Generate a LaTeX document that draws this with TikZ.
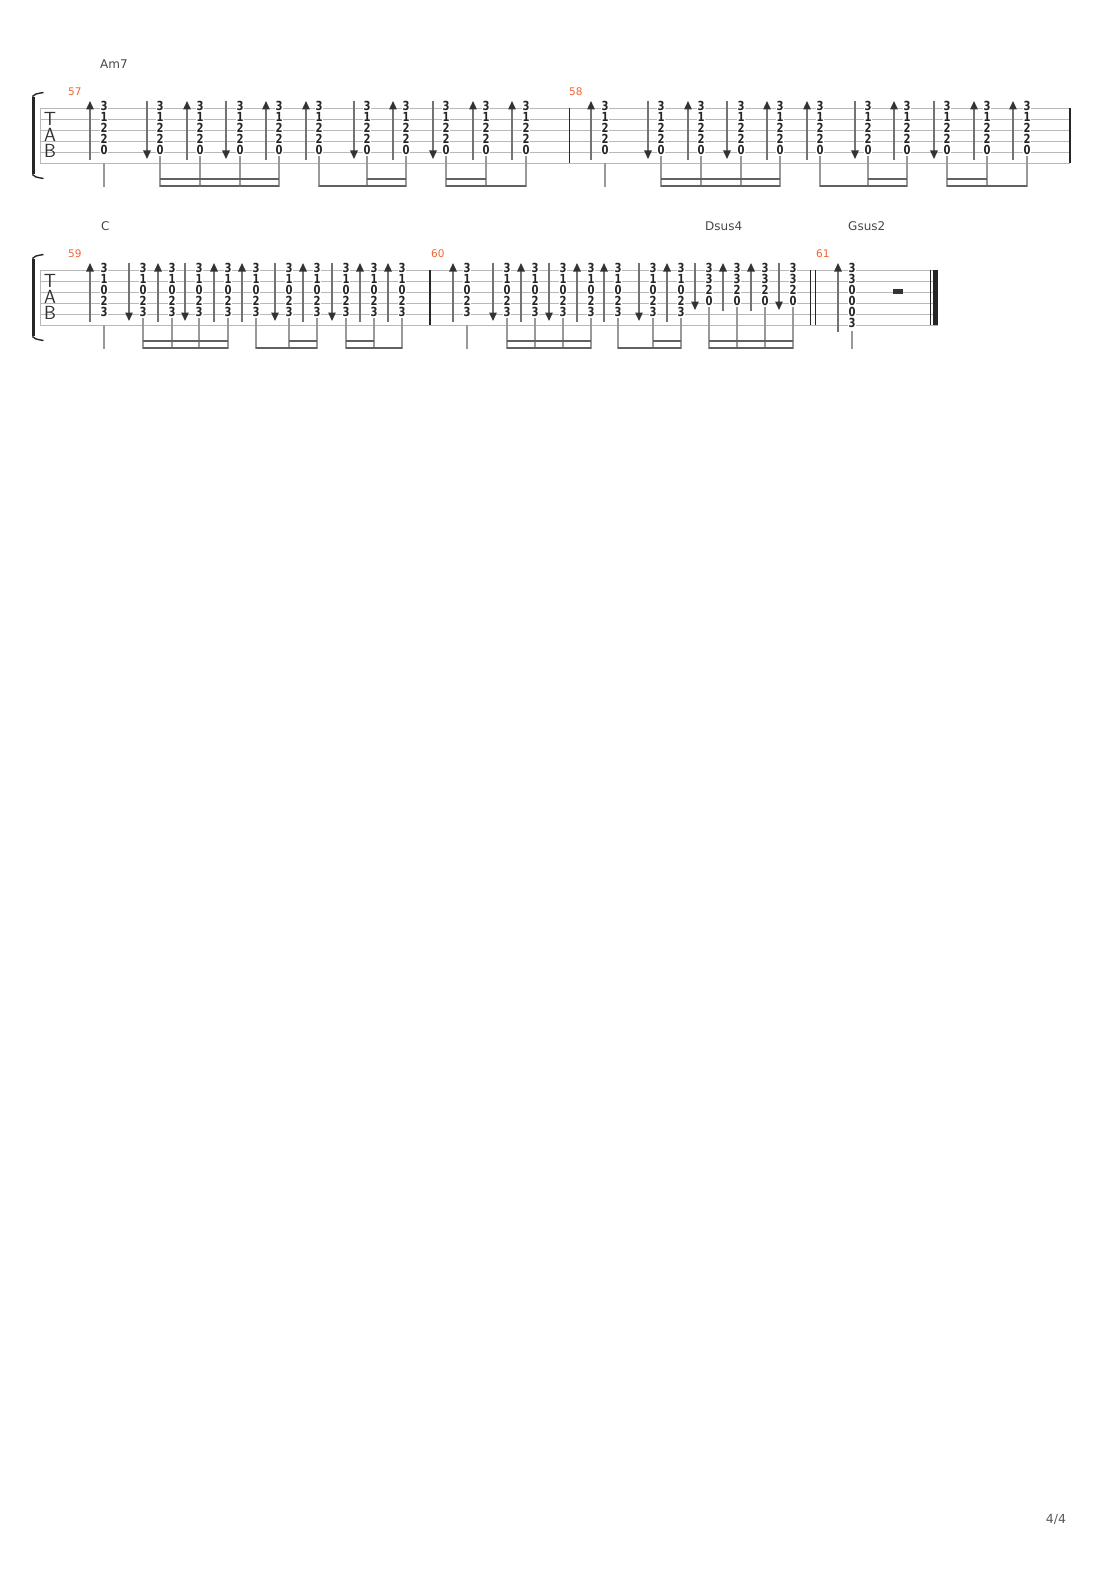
\documentclass[tikz,border=0pt]{standalone}
\usepackage{fontspec}
\usetikzlibrary{arrows.meta}
\newfontfamily\fretfont{DejaVu Sans}[FakeStretch=0.8]
\newfontfamily\labelfont{DejaVu Sans}
\tikzset{
    staffline/.style={draw=staffgray, line width=0.8pt},
    barline/.style={draw=black!85, line width=1.2pt},
    fret/.style={font=\fretfont\bfseries\fontsize{12.5}{12.5}\selectfont, text=black!85,
        fill=white, inner sep=0.2pt},
    strum/.style={draw=strumgray, line width=1.3pt,
        -{Triangle[width=7.5pt,length=8.5pt,color=headgray]}},
    stem/.style={draw=stemgray, line width=1.1pt},
    beam/.style={draw=beamgray, line width=2.4pt},
    chordname/.style={font=\labelfont\fontsize{12}{12}\selectfont, text=black!72,
        anchor=west, inner sep=0pt},
    barnum/.style={font=\labelfont\fontsize{10.5}{10.5}\selectfont, text=barorange,
        anchor=west, inner sep=0pt},
    tabletters/.style={font=\sffamily\fontsize{19}{15.6}\selectfont, text=black!80,
        inner sep=0pt, align=center}
}

\begin{document}
\begin{tikzpicture}[x=1pt,y=-1pt]
  % Colors
    \colorlet{staffgray}{black!28}
    \colorlet{strumgray}{black!55}
    \colorlet{headgray}{black!80}
    \colorlet{stemgray}{black!40}
    \colorlet{beamgray}{black!62}
    \definecolor{barorange}{RGB}{242,100,50}

  % The graphic
    \useasboundingbox (0,0) rectangle (1110,1570);

  % staves
    \foreach \y in {0,...,5}{
      \draw[staffline] (40,{108+11*\y}) -- (1070,{108+11*\y});
      \draw[staffline] (40,{270+11*\y}) -- (937.5,{270+11*\y});
    }
    \foreach \y in {108,270}{
      \draw[staffline] (40,\y) -- (40,{\y+55});
      \draw[line width=2.8pt, draw=black!85] (33.5,{\y-11}) -- (33.5,{\y+66});
      \draw[line width=1.4pt, draw=black!85] (32.4,{\y-11.5}) .. controls (35,{\y-14}) .. (43.5,{\y-15.5});
      \draw[line width=1.4pt, draw=black!85] (32.4,{\y+66.5}) .. controls (35,{\y+69}) .. (43.5,{\y+70.5});
      \node[tabletters] (tab\y) at (50,{\y+27}) {T\\A\\B};
    }

  % bar lines
    \draw[barline] (569.5,108) -- (569.5,163);
    \draw[barline] (1070,108) -- (1070,163);
    \draw[barline] (430,270) -- (430,325);
    \draw[barline] (810.7,270) -- (810.7,325);
    \draw[barline] (815.3,270) -- (815.3,325);
    \draw[barline] (930.7,270) -- (930.7,325);
    \draw[draw=black!85, line width=4.4pt] (935.5,270) -- (935.5,325);

  % labels
    \node[chordname] (am7) at (100,64) {Am7};
    \node[chordname] (c) at (101,226) {C};
    \node[chordname] (dsus4) at (705,226) {Dsus4};
    \node[chordname] (gsus2) at (848,226) {Gsus2};
    \foreach \n/\x/\y in {57/68/92, 58/569/92, 59/68/254, 60/431/254, 61/816/254}
      \node[barnum] (m\n) at (\x,\y) {\n};
    \node[font=\labelfont\fontsize{12.5}{12.5}\selectfont, text=black!65] (page) at (1056,1520) {4/4};

  % measures 57 and 58 (Am7)
    \foreach \m in {0,501}{
      \foreach \x in {104,160,200,240,279,319,367,406,446,486,526}
        \foreach \f [count=\s] in {3,1,2,2,0}
          \node[fret] (a\m-\x-\s) at ({\x+\m},{95+11*\s}) {\f};
      \foreach \x in {90,187,266,306,393,473,512}
        \draw[strum] ({\x+\m},160) -- ({\x+\m},101);
      \foreach \x in {147,226,354,433}
        \draw[strum] ({\x+\m},101) -- ({\x+\m},159);
      \draw[stem] ({104+\m},163) -- ({104+\m},187.4);
      \foreach \x in {160,200,240,279,319,367,406,446,486,526}
        \draw[stem] ({\x+\m},156) -- ({\x+\m},187.4);
      \draw[beam] ({160+\m},186.2) -- ({279+\m},186.2);
      \draw[beam] ({160+\m},179) -- ({279+\m},179);
      \draw[beam] ({319+\m},186.2) -- ({406+\m},186.2);
      \draw[beam] ({367+\m},179) -- ({406+\m},179);
      \draw[beam] ({446+\m},186.2) -- ({526+\m},186.2);
      \draw[beam] ({446+\m},179) -- ({486+\m},179);
    }

  % measures 59 and 60 (C, Dsus4)
    \foreach \x in {104,143,172,199,228,256,289,317,346,374,402,467,507,535,563,591,618,653,681}
      \foreach \f [count=\s] in {3,1,0,2,3}
        \node[fret] (c\x-\s) at (\x,{257+11*\s}) {\f};
    \foreach \x in {709,737,765,793}
      \foreach \f [count=\s] in {3,3,2,0}
        \node[fret] (d\x-\s) at (\x,{257+11*\s}) {\f};
    \foreach \x in {90,158,214,242,303,360,388,453,521,577,604,667}
      \draw[strum] (\x,322) -- (\x,263);
    \foreach \x in {129,185,275,332,493,549,639}
      \draw[strum] (\x,263) -- (\x,321);
    \foreach \x in {723,751}
      \draw[strum] (\x,311) -- (\x,263);
    \foreach \x in {695,779}
      \draw[strum] (\x,263) -- (\x,310);
    \foreach \x in {104,467}
      \draw[stem] (\x,325) -- (\x,349.4);
    \foreach \x in {143,172,199,228,256,289,317,346,374,402,507,535,563,591,618,653,681}
      \draw[stem] (\x,318) -- (\x,349.4);
    \foreach \x in {709,737,765,793}
      \draw[stem] (\x,307) -- (\x,349.4);
    \foreach \a/\b in {143/228, 256/317, 346/402, 507/591, 618/681, 709/793}
      \draw[beam] (\a,348.2) -- (\b,348.2);
    \foreach \a/\b in {143/228, 289/317, 346/374, 507/591, 653/681, 709/793}
      \draw[beam] (\a,341) -- (\b,341);

  % measure 61 (Gsus2)
    \foreach \f [count=\s] in {3,3,0,0,0,3}
      \node[fret] (g852-\s) at (852,{257+11*\s}) {\f};
    \draw[strum] (838,332) -- (838,263);
    \draw[stem] (852,331) -- (852,349.4);
    \fill[black!80] (893,289) rectangle (903,293.5);
\end{tikzpicture}
\end{document}
